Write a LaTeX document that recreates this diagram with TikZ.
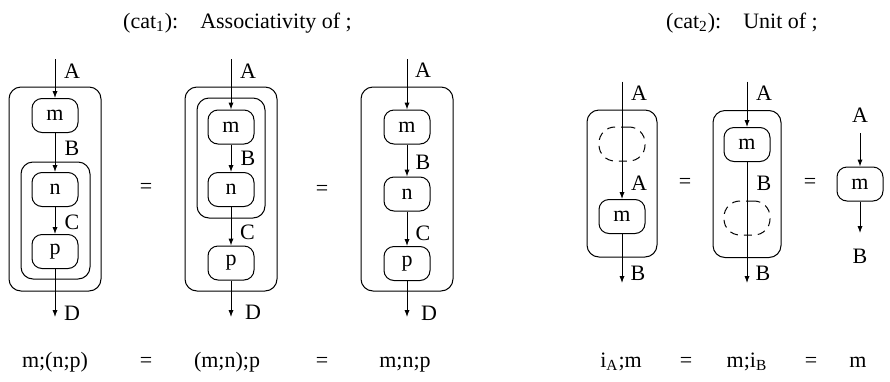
\documentclass[tikz,border=0pt]{standalone}
\usepackage{fontspec}
\setmainfont{Liberation Serif}
\usetikzlibrary{arrows.meta}
\tikzset{
  sdproc/.style={draw, rounded corners=5pt, minimum width=23pt, minimum height=17pt, inner sep=0pt},
  sdunit/.style={draw, dash pattern=on 4pt off 3pt, rounded corners=8pt, minimum width=23pt, minimum height=17pt, inner sep=0pt},
  sdgroup/.style={draw, rounded corners=6pt, inner sep=0pt},
  sdwire/.style={-{Latex[length=3.5pt,width=2.6pt]}},
  sdlabel/.style={inner sep=0pt},
  sdform/.style={inner sep=0pt, anchor=base},
}

\begin{document}
\begin{tikzpicture}[x=0.5pt, y=-0.5pt, line width=0.5pt, font=\fontsize{11}{13}\selectfont]
  \useasboundingbox (0,0) rectangle (890,381);

  % titles
  \node[sdlabel] (title1) at (237.5,23) {(cat\textsubscript{1}):\quad Associativity of ;};
  \node[sdlabel] (title2) at (742,23) {(cat\textsubscript{2}):\quad Unit of ;};

  % m;(n;p)
  \node[sdgroup, minimum width=46pt, minimum height=102pt] (g1) at (55,189) {};
  \node[sdgroup, minimum width=34.5pt, minimum height=58.5pt] (h1) at (55.5,220.5) {};
  \node[sdproc] (m1) at (55,115.5) {m};
  \node[sdproc] (n1) at (55,189.5) {n};
  \node[sdproc] (p1) at (55,251.5) {p};
  \coordinate (t1) at (55,59);
  \coordinate (b1) at (55,317);
  \draw[sdwire] (t1) -- (m1.north);
  \draw[sdwire] (m1) -- (n1);
  \draw[sdwire] (n1) -- (p1);
  \draw[sdwire] (p1.south) -- (b1);
  \node[sdlabel] (a1) at (72,71) {A};
  \node[sdlabel] (bb1) at (72,148) {B};
  \node[sdlabel] (c1) at (72,222) {C};
  \node[sdlabel] (d1) at (72,313) {D};

  \node[sdlabel] (eq1) at (146,188) {=};

  % (m;n);p
  \node[sdgroup, minimum width=46pt, minimum height=102pt] (g2) at (231,189) {};
  \node[sdgroup, minimum width=34pt, minimum height=60pt] (h2) at (231,158) {};
  \node[sdproc] (m2) at (231,127) {m};
  \node[sdproc] (n2) at (231,189.5) {n};
  \node[sdproc] (p2) at (231,263) {p};
  \coordinate (t2) at (231,59);
  \coordinate (b2) at (231,317);
  \draw[sdwire] (t2) -- (m2.north);
  \draw[sdwire] (m2) -- (n2);
  \draw[sdwire] (n2) -- (p2);
  \draw[sdwire] (p2.south) -- (b2);
  \node[sdlabel] (a2) at (248,71) {A};
  \node[sdlabel] (bb2) at (248,158) {B};
  \node[sdlabel] (c2) at (247.5,232) {C};
  \node[sdlabel] (d2) at (253,312) {D};

  \node[sdlabel] (eq2) at (322,190) {=};

  % m;n;p
  \node[sdgroup, minimum width=46pt, minimum height=102pt] (g3) at (407,189) {};
  \node[sdproc] (m3) at (407,127) {m};
  \node[sdproc] (n3) at (407,194) {n};
  \node[sdproc] (p3) at (407,263.5) {p};
  \coordinate (t3) at (407,59);
  \coordinate (b3) at (407,317);
  \draw[sdwire] (t3) -- (m3.north);
  \draw[sdwire] (m3) -- (n3);
  \draw[sdwire] (n3) -- (p3);
  \draw[sdwire] (p3.south) -- (b3);
  \node[sdlabel] (a3) at (423,70) {A};
  \node[sdlabel] (bb3) at (423,162) {B};
  \node[sdlabel] (c3) at (423,233) {C};
  \node[sdlabel] (d3) at (429,313) {D};

  % i_A;m
  \node[sdgroup, minimum width=35pt, minimum height=73.5pt] (g4) at (622,183.5) {};
  \node[sdunit] (u4) at (622,144) {};
  \node[sdproc] (m4) at (622,216.5) {m};
  \coordinate (t4) at (622,81.7);
  \coordinate (b4) at (622,283);
  \draw[sdwire] (t4) -- (m4.north);
  \draw[sdwire] (m4.south) -- (b4);
  \node[sdlabel] (a4) at (639,93) {A};
  \node[sdlabel] (aa4) at (639,183) {A};
  \node[sdlabel] (bb4) at (638,273) {B};

  \node[sdlabel] (eq3) at (685,183) {=};

  % m;i_B
  \node[sdgroup, minimum width=34pt, minimum height=73.5pt] (g5) at (747,184) {};
  \node[sdproc] (m5) at (747,144.5) {m};
  \node[sdunit] (u5) at (747,218) {};
  \coordinate (t5) at (747,81.7);
  \coordinate (b5) at (747,283);
  \draw[sdwire] (t5) -- (m5.north);
  \draw[sdwire] (m5.south) -- (b5);
  \node[sdlabel] (a5) at (764,93) {A};
  \node[sdlabel] (bb5) at (764,183) {B};
  \node[sdlabel] (bbb5) at (763,273) {B};

  \node[sdlabel] (eq4) at (810,183) {=};

  % m
  \node[sdproc] (m6) at (860,184) {m};
  \coordinate (t6) at (860,133);
  \coordinate (b6) at (860,233);
  \draw[sdwire] (t6) -- (m6.north);
  \draw[sdwire] (m6.south) -- (b6);
  \node[sdlabel] (a6) at (860,115) {A};
  \node[sdlabel] (bb6) at (860,256) {B};

  % formulas
  \node[sdform] (f1) at (55,367) {m;(n;p)};
  \node[sdform] (f2) at (146,367) {=};
  \node[sdform] (f3) at (227,367) {(m;n);p};
  \node[sdform] (f4) at (322,367) {=};
  \node[sdform] (f5) at (405,367) {m;n;p};
  \node[sdform] (f6) at (621,367) {i\textsubscript{A};m};
  \node[sdform] (f7) at (686,367) {=};
  \node[sdform] (f8) at (747,367) {m;i\textsubscript{B}};
  \node[sdform] (f9) at (811,367) {=};
  \node[sdform] (f10) at (858,367) {m};
\end{tikzpicture}
\end{document}
